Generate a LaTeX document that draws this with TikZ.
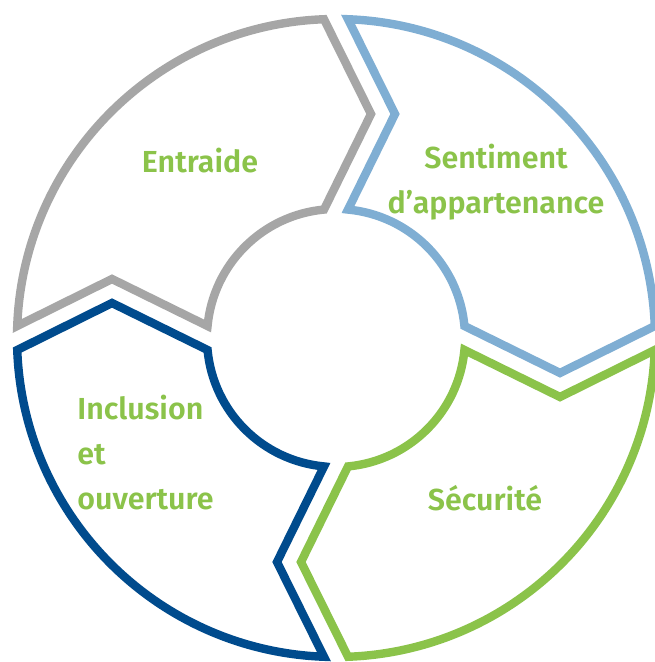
\documentclass[tikz,border=0pt]{standalone}
\usepackage{fontspec}
\setmainfont{Fira Sans}[BoldFont={Fira Sans SemiBold}]
\usepackage{tikz}
\definecolor{segGray}{HTML}{A6A6A6}
\definecolor{segLightBlue}{HTML}{7FAED3}
\definecolor{segGreen}{HTML}{8BC34A}
\definecolor{segDarkBlue}{HTML}{004B8D}
\tikzstyle{segment} = [line width=4.2pt, line join=miter, fill=white]
\tikzstyle{cycletext} = [text=segGreen, inner sep=0pt,
    font=\fontsize{15.2}{22.5}\selectfont\bfseries]

\begin{document}
\begin{tikzpicture}[x=0.5pt, y=0.5pt]
  \useasboundingbox (-336,-324) rectangle (318,338);

  % four arrow shaped parts of the ring, turned a quarter each time
  \foreach \ang/\col in {0/segGray, -90/segLightBlue, -180/segGreen, -270/segDarkBlue} {
    \draw [segment, draw=\col, rotate=\ang]
      (177.84:319) arc [start angle=177.84, end angle=92.16, radius=319]
      -- (35,224) -- (95.34:129)
      arc [start angle=95.34, end angle=174.66, radius=129]
      -- (-224,59) -- cycle;
  }

  % Place labels
  \node [cycletext] (entraide) at (-136,177) {Entraide};
  \node [cycletext, align=center] (appartenance) at (160,156) {Sentiment\\d’appartenance};
  \node [cycletext] (securite) at (149,-160) {Sécurité};
  \node [cycletext, align=left, anchor=west] (inclusion) at (-259,-115) {Inclusion\\et\\ouverture};

\end{tikzpicture}
\end{document}
